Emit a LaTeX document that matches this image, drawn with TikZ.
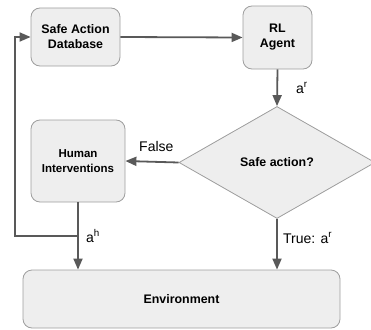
\documentclass[tikz,border=0pt]{standalone}
\usepackage{fontspec}
\setmainfont{Liberation Sans}
\usetikzlibrary{shapes.geometric,arrows.meta}
\definecolor{boxfill}{HTML}{EEEEEE}
\definecolor{boxline}{HTML}{9E9E9E}
\definecolor{arrowc}{HTML}{595959}
\tikzset{
  box/.style={draw=boxline, fill=boxfill, line width=0.8pt, rounded corners=9pt,
    align=center, inner sep=0pt, font=\bfseries\fontsize{12.4}{15}\selectfont},
  dec/.style={draw=boxline, fill=boxfill, line width=0.8pt, diamond, inner sep=0pt,
    minimum width=196pt, minimum height=112pt, font=\bfseries\fontsize{12.4}{15}\selectfont},
  conn/.style={draw=arrowc, line width=1.8pt, -{Triangle[length=11pt,width=9pt]}},
  plain/.style={draw=arrowc, line width=1.8pt},
  lbl/.style={font=\fontsize{14}{16}\selectfont, inner sep=0pt}
}
\begin{document}
\begin{tikzpicture}[x=1pt, y=-1pt]
\useasboundingbox (0,0) rectangle (371,329);
\node[box, minimum width=89pt, minimum height=58pt] (sad) at (75.5,37) {Safe Action\\Database};
\node[box, minimum width=69pt, minimum height=63pt] (rl) at (277.5,37.5) {RL\\Agent};
\node[dec] (dia) at (277,162.5) {Safe action?};
\node[box, minimum width=94pt, minimum height=82pt, font=\bfseries\fontsize{11.5}{15}\selectfont] (hi) at (78,161) {Human\\Interventions};
\node[box, minimum width=317pt, minimum height=58pt] (env) at (181.5,299) {Environment};
\coordinate (j) at (78,236);
\coordinate (lft) at (15,236);
\draw[conn] (sad.east) -- (rl.west);
\draw[conn] (rl.south) -- (dia.north);
\draw[conn] (dia.west) -- (hi.east);
\draw[conn] (hi.south) -- (env.north -| hi.south);
\draw[conn] (dia.south) -- (env.north -| dia.south);
\draw[conn] (j) -- (lft) |- (sad.west);
\node[lbl, anchor=base west] at (296,93) {a\textsuperscript{r}};
\node[lbl, anchor=base west] at (139,151) {False};
\node[lbl, anchor=base west] at (86,242) {a\textsuperscript{h}};
\node[lbl, anchor=base west] at (283,243) {True: a\textsuperscript{r}};
\end{tikzpicture}
\end{document}
